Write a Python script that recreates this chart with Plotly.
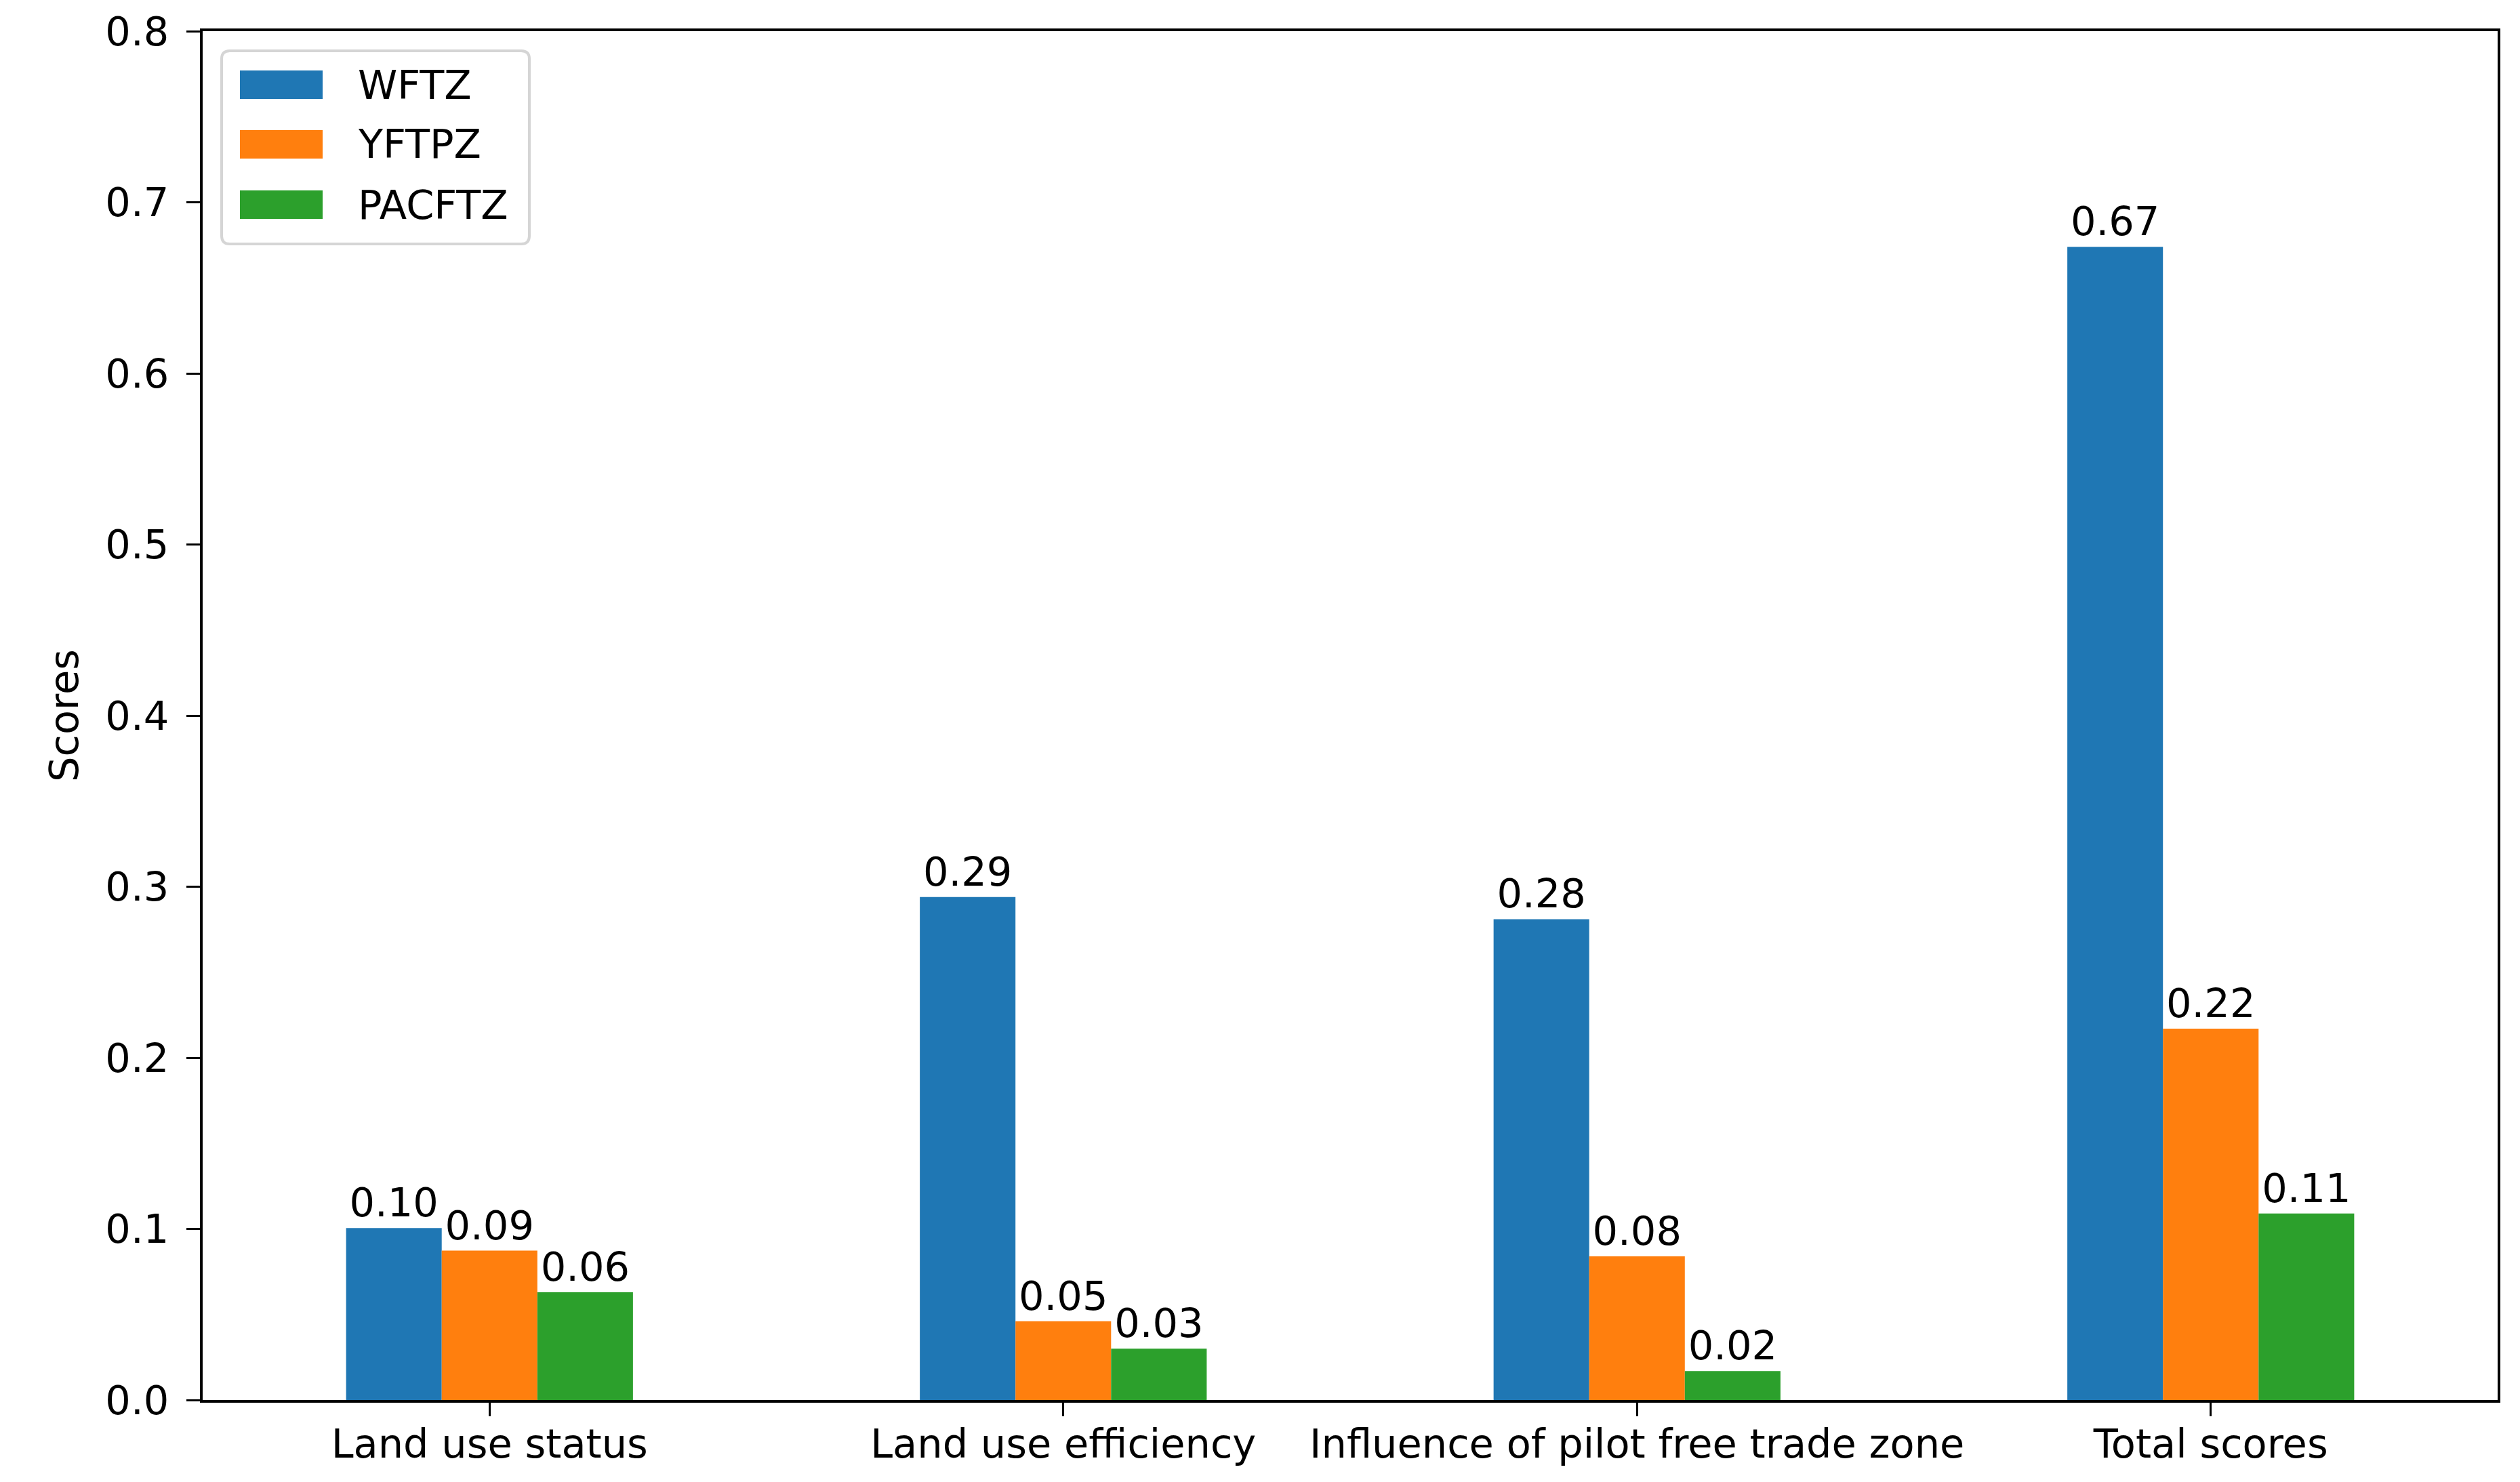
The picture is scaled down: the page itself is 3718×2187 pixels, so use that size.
import plotly.graph_objects as go

# ---- data ----
categories = ["Land use status", "Land use efficiency",
              "Influence of pilot free trade zone", "Total scores"]
series_names = ["WFTZ", "YFTPZ", "PACFTZ"]
wftz = [0.1005, 0.294, 0.281, 0.674]
yftpz = [0.0873, 0.046, 0.084, 0.217]
pacftz = [0.063, 0.030, 0.0169, 0.109]
y_ticks = [0.0, 0.1, 0.2, 0.3, 0.4, 0.5, 0.6, 0.7, 0.8]

values = [wftz, yftpz, pacftz]
colors = ["#1f77b4", "#ff7f0e", "#2ca02c"]

W, H = 3718, 2187
L, R, T, B = 291, 3677, 38, 2058
FONT = "DejaVu Sans"
FS = 59

fig = go.Figure()
for name, vals, col in zip(series_names, values, colors):
    fig.add_trace(go.Bar(
        x=categories, y=vals, name=name,
        marker=dict(color=col, line=dict(width=0)),
        texttemplate="%{y:.2f}", textposition="outside",
        textfont=dict(family=FONT, size=FS, color="black"),
        constraintext="none", cliponaxis=False,
    ))

def px(x):
    return (x - L) / (R - L)

def py(y):
    return (B - y) / (B - T)

# legend drawn manually (box, swatches, labels)
shapes = []
bx0, bx1, by0, by1, rad = 319, 773, 67, 352, 12
path = (f"M {px(bx0+rad)},{py(by0)} L {px(bx1-rad)},{py(by0)} "
        f"Q {px(bx1)},{py(by0)} {px(bx1)},{py(by0+rad)} "
        f"L {px(bx1)},{py(by1-rad)} Q {px(bx1)},{py(by1)} {px(bx1-rad)},{py(by1)} "
        f"L {px(bx0+rad)},{py(by1)} Q {px(bx0)},{py(by1)} {px(bx0)},{py(by1-rad)} "
        f"L {px(bx0)},{py(by0+rad)} Q {px(bx0)},{py(by0)} {px(bx0+rad)},{py(by0)} Z")
shapes.append(dict(type="path", xref="paper", yref="paper", path=path,
                   line=dict(color="#d5d5d5", width=4), fillcolor="rgba(255,255,255,0.8)",
                   layer="above"))
row_centers = [117, 205, 294]
annotations = []
for name, col, rc in zip(series_names, colors, row_centers):
    shapes.append(dict(type="rect", xref="paper", yref="paper",
                       x0=px(346), x1=px(468), y0=py(rc - 21), y1=py(rc + 21),
                       fillcolor=col, line=dict(width=0), layer="above"))
    annotations.append(dict(xref="paper", yref="paper", x=px(518), y=py(rc),
                            xanchor="left", yanchor="middle", text=name,
                            showarrow=False,
                            font=dict(family=FONT, size=FS, color="black")))

fig.update_layout(
    width=W, height=H,
    margin=dict(l=L, r=W - R, t=T, b=H - B, pad=0, autoexpand=False),
    paper_bgcolor="white", plot_bgcolor="white",
    barmode="group", bargap=0.5, bargroupgap=0,
    showlegend=False,
    font=dict(family=FONT, size=FS, color="black"),
    shapes=shapes, annotations=annotations,
)
fig.update_xaxes(
    range=[-0.5, 3.5], automargin=False,
    showline=True, linecolor="black", linewidth=4, mirror=True,
    ticks="outside", ticklen=20, tickwidth=3, tickcolor="black",
    ticklabelstandoff=-10,
    showgrid=False, zeroline=False,
    tickfont=dict(family=FONT, size=FS, color="black"),
)
fig.update_yaxes(
    range=[0, 0.8], tickvals=y_ticks, tickformat=".1f", automargin=False,
    showline=True, linecolor="black", linewidth=4, mirror=True,
    ticks="outside", ticklen=20, tickwidth=3, tickcolor="black",
    ticklabelstandoff=14,
    showgrid=False, zeroline=False,
    tickfont=dict(family=FONT, size=FS, color="black"),
    title=dict(text="Scores", standoff=22, font=dict(family=FONT, size=FS, color="black")),
)

fig.write_html("out.html")
